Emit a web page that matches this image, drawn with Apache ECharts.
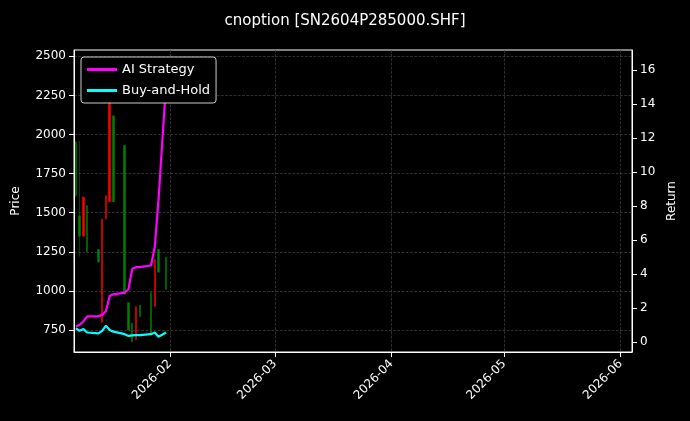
<!DOCTYPE html>
<html>
<head>
<meta charset="utf-8">
<script src="https://cdn.jsdelivr.net/npm/echarts@6/dist/echarts.min.js"></script>
<style>html,body{margin:0;background:#000;}</style>
</head>
<body>
<div id="main" style="width:690px;height:421px;"></div>
<script>
var dates = ['2026-01-07','2026-01-08','2026-01-09','2026-01-10','2026-01-13','2026-01-14','2026-01-15','2026-01-16','2026-01-17',
             '2026-01-20','2026-01-21','2026-01-22','2026-01-23','2026-01-24','2026-01-27','2026-01-28','2026-01-29','2026-01-31'];
// open, close, low, high
var ohlc = [
  [1950,1610,1600,1960],
  [1480,1350,1220,1960],
  [1350,1600,1350,1600],
  [1545,1250,1245,1545],
  [1265,1185,1180,1265],
  [800,1460,795,1460],
  [1460,1610,1460,1610],
  [1570,2340,1570,2345],
  [2120,1570,1570,2120],
  [1930,980,975,1932],
  [925,750,750,925],
  [795,675,672,795],
  [690,900,685,900],
  [910,835,834,910],
  [990,730,730,990],
  [900,1200,900,1200],
  [1265,1120,1118,1265],
  [1215,1010,1008,1215]
];
var aiReturn = [0.9,1.0,1.2,1.5,1.5,1.6,1.8,2.7,2.8,2.9,3.1,4.3,4.4,4.4,4.5,5.6,8.4,15.2];
var bhReturn = [0.8,0.65,0.75,0.55,0.5,0.65,0.95,0.7,0.6,0.45,0.35,0.38,0.4,0.4,0.45,0.55,0.3,0.55];
var monthTicks = ['2026-02-01','2026-03-01','2026-04-01','2026-05-01','2026-06-01'];
var priceTicks = [750,1000,1250,1500,1750,2000,2250,2500];
var returnTicks = [0,2,4,6,8,10,12,14,16];

function ts(d) { return +new Date(d + 'T00:00:00'); }
var chart = echarts.init(document.getElementById('main'));
var tickVals = monthTicks.map(ts);
var axisTxt = {color: '#fff', fontSize: 12, fontFamily: 'DejaVu Sans'};
var grid = {color: '#444', type: 'dashed', width: 0.7};
var option = {
  backgroundColor: '#000',
  animation: false,
  title: {text: 'cnoption [SN2604P285000.SHF]', left: 'center', top: 9,
    textStyle: {color: '#fff', fontSize: 15, fontWeight: 'normal', fontFamily: 'DejaVu Sans'}},
  legend: {
    left: 81, top: 57, orient: 'vertical', itemGap: 8,
    backgroundColor: '#000', borderColor: '#ccc', borderWidth: 1, borderRadius: 3, padding: [6, 6],
    itemWidth: 30, itemHeight: 3,
    textStyle: {color: '#fff', fontSize: 13, fontFamily: 'DejaVu Sans'},
    data: [{name: 'AI Strategy', icon: 'rect'}, {name: 'Buy-and-Hold', icon: 'rect'}]
  },
  grid: {left: 74, right: 58, top: 50, bottom: 69, show: true, borderColor: '#fff', borderWidth: 1},
  xAxis: {
    type: 'value',
    min: ts('2026-01-06') + 12 * 3600e3, max: ts('2026-06-04'),
    axisLine: {onZero: false, lineStyle: {color: '#fff'}},
    axisTick: {customValues: tickVals, lineStyle: {color: '#fff'}},
    axisLabel: Object.assign({customValues: tickVals, rotate: 45, margin: 10,
      formatter: function (v) { var d = new Date(v); return d.getFullYear() + '-' + ('0' + (d.getMonth() + 1)).slice(-2); }}, axisTxt),
    splitLine: {show: true, lineStyle: grid}
  },
  yAxis: [{
    type: 'value', name: 'Price', nameLocation: 'middle', nameGap: 52,
    nameTextStyle: axisTxt,
    min: 610, max: 2540,
    axisLabel: Object.assign({customValues: priceTicks, formatter: function (v) { return String(v); }}, axisTxt),
    axisTick: {show: true, customValues: priceTicks, lineStyle: {color: '#fff'}},
    axisLine: {show: true, lineStyle: {color: '#fff'}},
    splitLine: {show: true, lineStyle: grid}
  }, {
    type: 'value', name: 'Return', nameLocation: 'middle', nameGap: 32,
    nameTextStyle: axisTxt,
    min: -0.6, max: 17.2,
    axisLabel: Object.assign({customValues: returnTicks}, axisTxt),
    axisTick: {show: true, customValues: returnTicks, lineStyle: {color: '#fff'}},
    axisLine: {show: true, lineStyle: {color: '#fff'}},
    splitLine: {show: false}
  }],
  series: [{
    type: 'candlestick', yAxisIndex: 0, barWidth: 2,
    data: dates.map(function (d, i) { return [ts(d)].concat(ohlc[i]); }),
    itemStyle: {color: '#ff0000', color0: '#008000', borderColor: '#ff0000', borderColor0: '#008000', borderWidth: 0.5}
  }, {
    name: 'AI Strategy', type: 'line', yAxisIndex: 1, showSymbol: false,
    lineStyle: {color: '#ff00ff', width: 2.2}, itemStyle: {color: '#ff00ff'},
    data: dates.map(function (d, i) { return [ts(d), aiReturn[i]]; })
  }, {
    name: 'Buy-and-Hold', type: 'line', yAxisIndex: 1, showSymbol: false,
    lineStyle: {color: '#00ffff', width: 2.2}, itemStyle: {color: '#00ffff'},
    data: dates.map(function (d, i) { return [ts(d), bhReturn[i]]; })
  }]
};
chart.setOption(option);
</script>
</body>
</html>
